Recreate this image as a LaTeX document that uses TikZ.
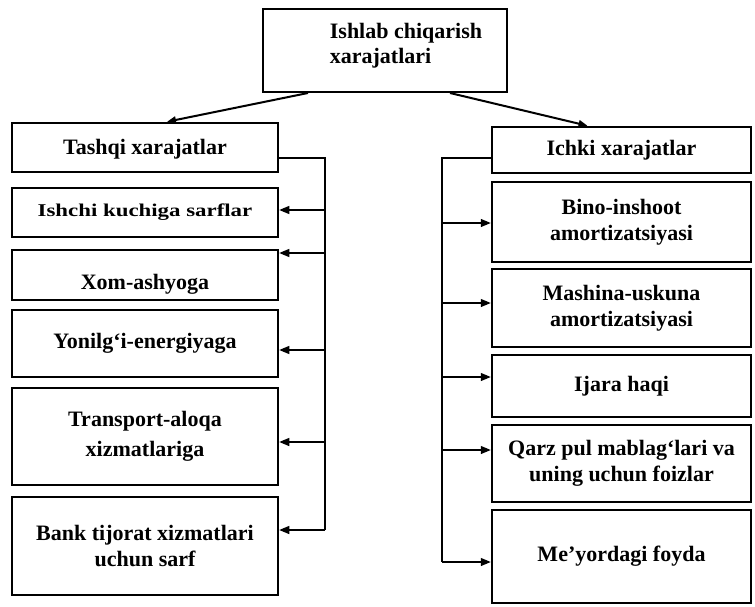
\documentclass[tikz,border=0pt]{standalone}
\usepackage{fontspec}
\setmainfont{Liberation Serif}
\usetikzlibrary{arrows.meta}
\begin{document}
\begin{tikzpicture}[x=1pt,y=-1pt,
  box/.style={draw, line width=2.5pt, inner sep=0pt, align=center,
    font=\bfseries\fontsize{22}{26}\selectfont},
  lbox/.style={box, minimum width=266pt},
  rbox/.style={box, minimum width=259pt},
  conn/.style={line width=1.2pt},
  arr/.style={conn, -{Triangle[length=10pt,width=8pt]}},
  toparr/.style={line width=2pt, -{Triangle[length=9pt,width=7pt]}}]
\useasboundingbox (0,0) rectangle (755,607);
% top
\node[box, minimum width=244pt, minimum height=83pt] (top) at (385,50.5) {};
\node[font=\bfseries\fontsize{22}{25}\selectfont, align=left, inner sep=0pt] (toptxt) at (406,46) {Ishlab chiqarish\\xarajatlari};
% left column
\node[lbox, minimum height=49pt] (tashqi) at (145,147.5) {\raisebox{-2pt}[\height][\depth]{Tashqi xarajatlar}};
\node[lbox, minimum height=49pt] (ishchi) at (145,212.5) {\scalebox{1.27}[1]{\fontsize{18}{20}\selectfont Ishchi kuchiga sarflar}};
\node[lbox, minimum height=50pt] (xom) at (145,275) {\raisebox{-9pt}[\height][\depth]{Xom-ashyoga}};
\node[lbox, minimum height=67pt] (yon) at (145,343.5) {Yonilg‘i-energiyaga};
\node[lbox, minimum height=97pt] (trans) at (145,436.5) {Transport-aloqa\\[4pt]xizmatlariga};
\node[lbox, minimum height=98pt] (bank) at (145,546) {Bank tijorat xizmatlari\\uchun sarf};
% right column
\node[rbox, minimum height=46pt] (ichki) at (621.5,150) {Ichki xarajatlar};
\node[rbox, minimum height=80pt] (bino) at (621.5,222) {Bino-inshoot\\amortizatsiyasi};
\node[rbox, minimum height=78pt] (mash) at (621.5,308) {Mashina-uskuna\\amortizatsiyasi};
\node[rbox, minimum height=62pt] (ijara) at (621.5,386) {Ijara haqi};
\node[rbox, minimum height=77pt] (qarz) at (621.5,463.5) {Qarz pul mablag‘lari va\\uning uchun foizlar};
\node[rbox, minimum height=93pt] (meyor) at (621.5,556.5) {Me’yordagi foyda};
% top arrows
\coordinate (tl) at (308,93);
\coordinate (tr) at (450,93);
\draw[toparr] (tl) -- ([xshift=22pt]tashqi.north);
\draw[toparr] (tr) -- ([xshift=-34pt]ichki.north);
% left bus
\coordinate (lb0) at (325,158);
\coordinate (lb1) at (325,210);
\coordinate (lb2) at (325,253);
\coordinate (lb3) at (325,350);
\coordinate (lb4) at (325,442);
\coordinate (lb5) at (325,530);
\draw[conn] (tashqi.east |- lb0) -- (lb0) -- (lb5);
\foreach \c/\n in {lb1/ishchi, lb2/xom, lb3/yon, lb4/trans, lb5/bank}
  \draw[arr] (\c) -- (\n.east |- \c);
% right bus
\coordinate (rb0) at (442,158);
\coordinate (rb1) at (442,223);
\coordinate (rb2) at (442,303);
\coordinate (rb3) at (442,377);
\coordinate (rb4) at (442,450);
\coordinate (rb5) at (442,562);
\draw[conn] (ichki.west |- rb0) -- (rb0) -- (rb5);
\foreach \c/\n in {rb1/bino, rb2/mash, rb3/ijara, rb4/qarz, rb5/meyor}
  \draw[arr] (\c) -- (\n.west |- \c);
\end{tikzpicture}
\end{document}
